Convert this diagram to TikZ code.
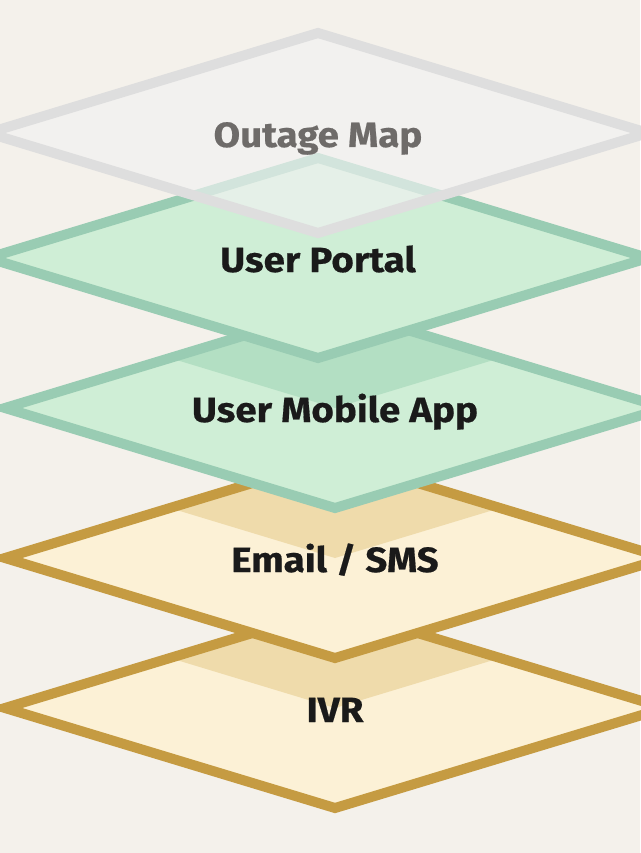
\documentclass[tikz,border=0pt]{standalone}
\usepackage{fontspec}
\setmainfont{Fira Sans}
\newfontfamily\lblfont[FakeStretch=1.1, FakeBold=0.5]{Fira Sans Bold}
\definecolor{bgc}{HTML}{F4F1EB}
\definecolor{grayS}{HTML}{DEDEDE}
\definecolor{grayF}{HTML}{F2F2F2}
\definecolor{grayT}{HTML}{6E6B69}
\definecolor{greenS}{HTML}{99CCB3}
\definecolor{greenF}{HTML}{CFEED6}
\definecolor{greenD}{HTML}{B3DFC3}
\definecolor{goldS}{HTML}{C59B42}
\definecolor{goldF}{HTML}{FCF1D6}
\definecolor{goldD}{HTML}{EFDBAB}
\definecolor{txt}{HTML}{1A1A1A}
\tikzset{
  slabline/.style={line width=10pt, line join=miter},
  lbl/.style={anchor=base, inner sep=0pt, font=\lblfont\fontsize{35}{42}\selectfont, text=txt},
}
\begin{document}
\begin{tikzpicture}[x=1pt,y=-1pt]
\useasboundingbox (0,0) rectangle (640,853);
\fill[bgc] (0,0) rectangle (640,853);
% IVR
\begin{scope}[shift={(335,708)}]
  \fill[goldF] (0,-100) -- (330,0) -- (0,100) -- (-330,0) -- cycle;
  \fill[goldD] (0,-100) -- (165,-50) -- (0,0) -- (-165,-50) -- cycle;
  \draw[slabline, goldS] (0,-100) -- (330,0) -- (0,100) -- (-330,0) -- cycle;
  \node[lbl] (ivr) at (0,14) {IVR};
\end{scope}
% Email / SMS
\begin{scope}[shift={(335,558)}]
  \fill[goldF] (0,-100) -- (330,0) -- (0,100) -- (-330,0) -- cycle;
  \fill[goldD] (0,-100) -- (165,-50) -- (0,0) -- (-165,-50) -- cycle;
  \draw[slabline, goldS] (0,-100) -- (330,0) -- (0,100) -- (-330,0) -- cycle;
  \node[lbl] (email) at (0,14) {Email / SMS};
\end{scope}
% User Mobile App
\begin{scope}[shift={(335,408)}]
  \fill[greenF] (0,-100) -- (330,0) -- (0,100) -- (-330,0) -- cycle;
  \fill[greenD] (0,-100) -- (165,-50) -- (0,0) -- (-165,-50) -- cycle;
  \draw[slabline, greenS] (0,-100) -- (330,0) -- (0,100) -- (-330,0) -- cycle;
  \node[lbl] (mobile) at (0,14) {User Mobile App};
\end{scope}
% User Portal
\begin{scope}[shift={(318,258)}]
  \fill[greenF] (0,-100) -- (330,0) -- (0,100) -- (-330,0) -- cycle;
  \draw[slabline, greenS] (0,-100) -- (330,0) -- (0,100) -- (-330,0) -- cycle;
  \node[lbl] (portal) at (0,14) {User Portal};
\end{scope}
% Outage Map
\begin{scope}[shift={(318,133)}]
  \fill[grayF, fill opacity=0.65] (0,-100) -- (330,0) -- (0,100) -- (-330,0) -- cycle;
  \draw[slabline, grayS] (0,-100) -- (330,0) -- (0,100) -- (-330,0) -- cycle;
  \node[lbl, text=grayT] (outage) at (0,14) {Outage Map};
\end{scope}
\end{tikzpicture}
\end{document}
